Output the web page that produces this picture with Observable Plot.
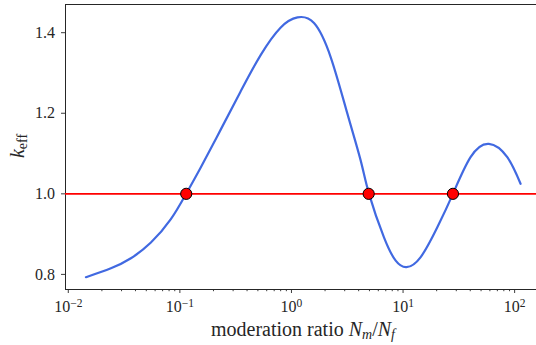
<!DOCTYPE html>
<html><head><meta charset="utf-8">
<script src="https://cdn.jsdelivr.net/npm/d3@7"></script>
<script src="https://cdn.jsdelivr.net/npm/@observablehq/plot@0.6"></script>
<style>
html,body{margin:0;padding:0;background:#fff;}
#chart svg{display:block;}
</style></head><body><div id="chart"></div>
<script>
// moderation ratio Nm/Nf (x) and k_eff (y)
const ratio = [0.01439,0.0241,0.0364,0.0550,0.0830,0.1138,0.1542,0.2328,0.3516,0.5309,0.8017,1.132,1.592,2.249,3.170,4.169,4.955,6.745,8.590,10.72,14.39,20.28,27.99,40.27,58.75,85.90,113.0];
const keff  = [0.793,0.815,0.840,0.879,0.937,1.000,1.066,1.160,1.255,1.345,1.413,1.438,1.424,1.339,1.199,1.083,1.000,0.892,0.834,0.818,0.843,0.917,1.000,1.091,1.124,1.091,1.025];
// critical points (k_eff = 1)
const critRatio = [0.114, 4.92, 28.0];
const critK = [1, 1, 1];
// axes
const xDomain = [0.00944, 157];
const yDomain = [0.7625, 1.47];
const xMajorTicks = [0.01, 0.1, 1, 10, 100];
const xMajorLabels = ["10^−2", "10^−1", "10^0", "10^1", "10^2"];
const yTicks = [0.8, 1.0, 1.2, 1.4];
const yTickLabels = ["0.8", "1.0", "1.2", "1.4"];

const curve = ratio.map((r, i) => ({r, k: keff[i]}));
const crit = critRatio.map((r, i) => ({r, k: critK[i]}));
const xMinorTicks = d3.scaleLog().domain(xDomain).ticks().filter(t => !xMajorTicks.some(m => Math.abs(m - t) / m < 1e-9));

const FONT = '"Liberation Serif", "DejaVu Serif", serif';
const INK = "#262626";

const plot = Plot.plot({
  width: 536, height: 345,
  marginLeft: 65, marginRight: 0, marginTop: 4, marginBottom: 56,
  style: {fontFamily: FONT, fontSize: "16px", color: INK, background: "#fff"},
  x: {type: "log", domain: xDomain, label: null},
  y: {domain: yDomain, label: null},
  marks: [
    Plot.axisX(xMinorTicks, {tickSize: 2.2, tickFormat: () => "", stroke: INK, strokeWidth: 0.9}),
    Plot.axisX(xMajorTicks, {tickSize: 4, tickPadding: 7, stroke: INK, strokeWidth: 0.9,
      tickFormat: d => xMajorLabels[xMajorTicks.indexOf(d)], fill: INK}),
    Plot.axisY(yTicks, {tickSize: 4, tickPadding: 6.5, stroke: INK, strokeWidth: 0.9,
      tickFormat: d => yTickLabels[yTicks.indexOf(d)], fill: INK}),
    Plot.ruleX([xDomain[0]], {stroke: INK, strokeWidth: 1}),
    Plot.ruleY([yDomain[0], yDomain[1]], {stroke: INK, strokeWidth: 1}),
    Plot.line(curve, {x: "r", y: "k", stroke: "#4169E1", strokeWidth: 2.2, curve: "natural"}),
    Plot.ruleY([1], {stroke: "#ff0000", strokeWidth: 1.6}),
    Plot.dot(crit, {x: "r", y: "k", r: 5.6, fill: "#ff0000", stroke: "#000", strokeWidth: 1})
  ]
});
document.getElementById("chart").appendChild(plot);

// superscript exponents on x tick labels
const svg = d3.select(plot);
svg.selectAll('g[aria-label="x-axis tick label"] text').each(function() {
  const t = d3.select(this);
  const s = t.text();
  if (!s.includes("^")) return;
  const [base, exp] = s.split("^");
  t.text(null);
  t.append("tspan").text(base);
  t.append("tspan").attr("dy", "-0.42em").attr("font-size", "0.72em").text(exp);
});

// axis labels
const xl = svg.append("text")
  .attr("x", 303).attr("y", 336)
  .attr("text-anchor", "middle")
  .attr("font-family", FONT).attr("font-size", "20px").attr("fill", INK);
xl.append("tspan").text("moderation ratio ");
xl.append("tspan").attr("font-style", "italic").text("N");
xl.append("tspan").attr("font-style", "italic").attr("font-size", "14px").attr("dy", "3").text("m");
xl.append("tspan").attr("dy", "-3").text("/");
xl.append("tspan").attr("font-style", "italic").text("N");
xl.append("tspan").attr("font-style", "italic").attr("font-size", "14px").attr("dy", "3").text("f");

const yl = svg.append("text")
  .attr("transform", "translate(24,146) rotate(-90)")
  .attr("text-anchor", "middle")
  .attr("font-family", FONT).attr("font-size", "20px").attr("fill", INK);
yl.append("tspan").attr("font-style", "italic").text("k");
yl.append("tspan").attr("font-size", "14px").attr("dy", "3").text("eff");
</script>
</body></html>
